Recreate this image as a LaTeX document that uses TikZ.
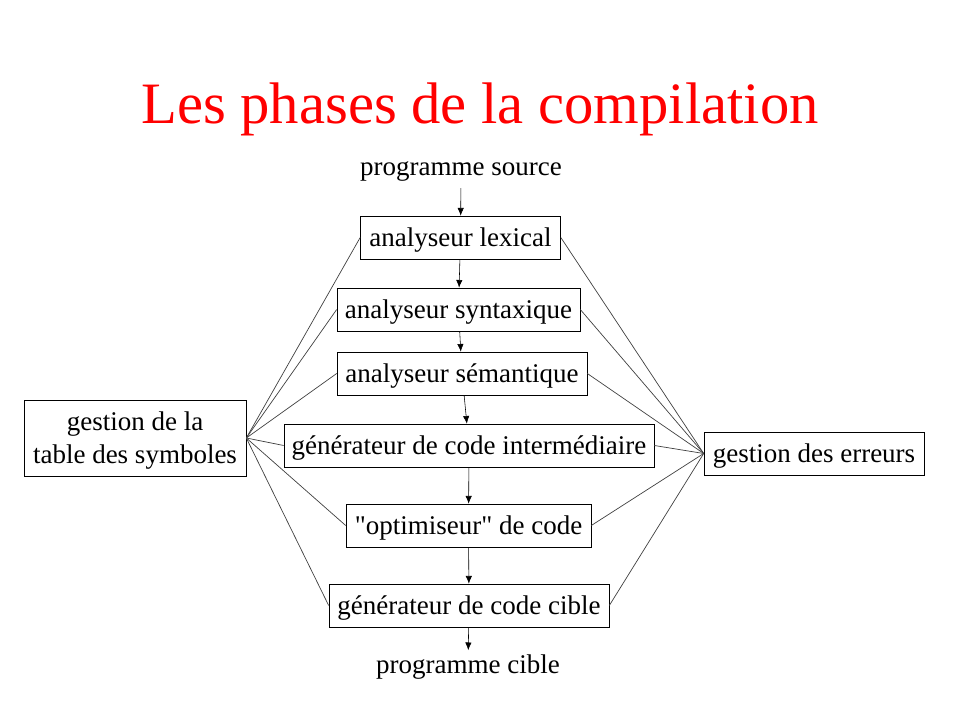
\documentclass[tikz,border=0pt]{standalone}
\usepackage{fontspec}
\setmainfont{Liberation Serif}[Ligatures=TeXOff]
\usepackage{tikz}
\usetikzlibrary{arrows.meta}

\begin{document}
\begin{tikzpicture}[x=0.025cm,y=-0.025cm,>={Latex[length=5.5pt,width=4.5pt]},thin]
            \tikzset{phase/.style={draw, minimum height=1.075cm, inner sep=0pt, text height=17pt, text depth=3.5pt, font=\fontsize{19.2}{23.5}\selectfont},
                     txt/.style={inner sep=2pt, font=\fontsize{19.2}{23.5}\selectfont},
                     link/.style={-, draw=black!75, line width=0.5pt}}
            \useasboundingbox (0,0) rectangle (960,720);
            \node[red, font=\fontsize{41.7}{50}\selectfont] (T) at (480,109) {Les phases de la compilation};
            \node[txt] (S) at (461,171) {programme source};
            \node[phase, minimum width=5cm] (A) at (460.5,237.5) {analyseur lexical};
            \node[phase, minimum width=6.075cm] (B) at (458.5,309.5) {analyseur syntaxique};
            \node[phase, minimum width=6.25cm] (C) at (462,373.5) {analyseur sémantique};
            \node[phase, minimum width=9.25cm] (D) at (469,445.5) {générateur de code intermédiaire};
            \node[phase, minimum width=6.125cm] (E) at (468.5,525.5) {"optimiseur" de code};
            \node[phase, minimum width=7cm] (F) at (469,605.5) {générateur de code cible};
            \node[txt] (P) at (468,667) {programme cible};
            \node[phase, minimum width=5.55cm, minimum height=1.9cm, text height=38pt, text depth=2pt, align=center] (G) at (135,438) {gestion de la\\table des symboles};
            \node[phase, minimum width=5.5cm] (H) at (814,453.5) {gestion des erreurs};
            \path (S) edge[->, shorten <=3pt] (A);
            \path (A) edge[->] (B);
            \path (B) edge[->] (C);
            \path (C) edge[->] (D);
            \path (D) edge[->] (E);
            \path (E) edge[->] (F);
            \path (F) edge[->, shorten >=1pt] (P);
            \foreach \n in {A,B,C,D,E,F} {
                \path (G.east) edge[link] (\n.west);
                \path (\n.east) edge[link] (H.west);
            }
        \end{tikzpicture}
\end{document}
